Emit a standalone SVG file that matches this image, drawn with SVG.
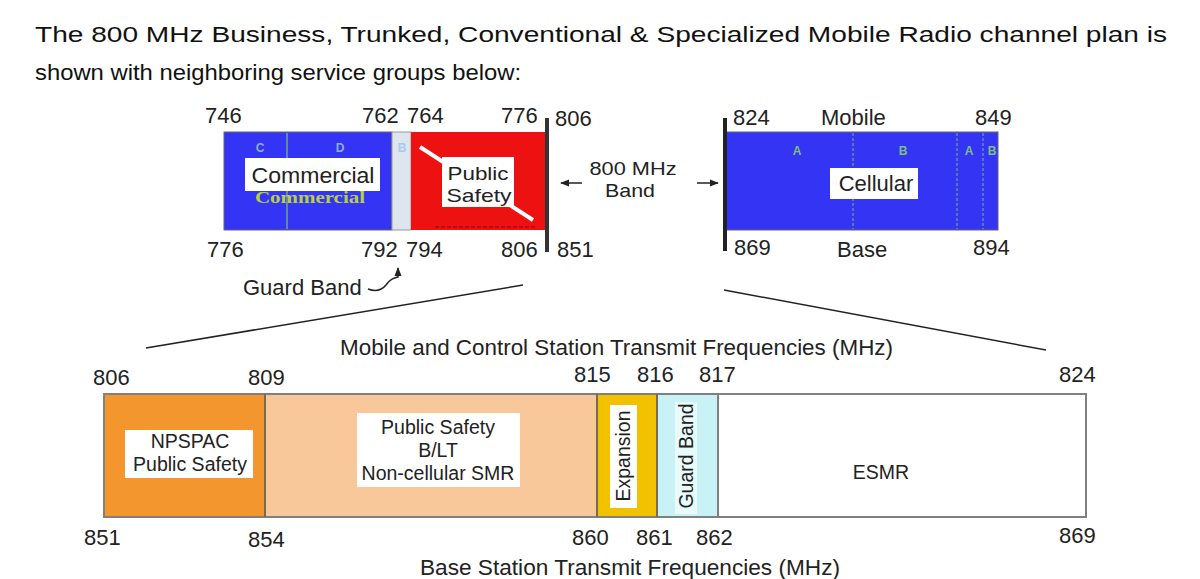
<svg xmlns="http://www.w3.org/2000/svg" width="1200" height="579" viewBox="0 0 1200 579">
<defs>
<style>
.t{font-family:"Liberation Sans",Arial,sans-serif;font-size:22px;fill:#222}
.t2{font-family:"Liberation Sans",Arial,sans-serif;font-size:19px;fill:#222;text-anchor:middle}
.h{font-family:"Liberation Sans",Arial,sans-serif;font-size:22px;fill:#111}
.m{text-anchor:middle}
.lbl{font-family:"Liberation Sans",Arial,sans-serif;font-size:19.5px;fill:#222;text-anchor:middle}
.ltr{font-family:"Liberation Sans",Arial,sans-serif;font-size:12px;font-weight:bold;text-anchor:middle}
.seg{stroke:#7a6a50;stroke-width:2}
.ln{stroke:#222;stroke-width:1.5;fill:none}
</style>
<marker id="ah" viewBox="0 0 10 10" refX="9" refY="5" markerWidth="6" markerHeight="6" orient="auto"><path d="M0,1 L10,5 L0,9 z" fill="#222"/></marker>
</defs>
<rect width="1200" height="579" fill="#fff"/>
<g id="header">
<text class="h" x="35" y="42" textLength="1132" lengthAdjust="spacingAndGlyphs">The 800 MHz Business, Trunked, Conventional &amp; Specialized Mobile Radio channel plan is</text>
<text class="h" x="35" y="80" textLength="486" lengthAdjust="spacingAndGlyphs">shown with neighboring service groups below:</text>
</g>
<g id="band-left">
<rect x="224" y="132" width="168" height="98" fill="#3434f4" stroke="#666" stroke-width="1"/>
<line x1="287" y1="133" x2="287" y2="229" stroke="#6fa58a" stroke-width="1.5"/>
<rect x="392" y="132" width="19" height="98" fill="#dde5ee" stroke="#999" stroke-width="1"/>
<rect x="411" y="132" width="135" height="98" fill="#ee1111"/>
<line x1="435" y1="227" x2="535" y2="227" stroke="#7a1010" stroke-width="1" stroke-dasharray="4,2"/>
<line x1="420" y1="147" x2="533" y2="220" stroke="#fff" stroke-width="4"/>
<text class="ltr" x="260" y="152" fill="#8fb0c0">C</text>
<text class="ltr" x="340" y="152" fill="#8fb0c0">D</text>
<text class="ltr" x="402" y="152" fill="#a8c8f0">B</text>
<text x="310" y="203" font-family="Liberation Serif,serif" font-size="16" font-weight="bold" fill="#b8d040" text-anchor="middle" textLength="110" lengthAdjust="spacingAndGlyphs">Commercial</text>
<rect x="245" y="158" width="135" height="33" fill="#fff"/>
<text class="t m" x="313" y="183" textLength="123" lengthAdjust="spacingAndGlyphs">Commercial</text>
<rect x="442" y="157" width="72" height="50" fill="#fff"/>
<text class="t2" x="478" y="180" textLength="61" lengthAdjust="spacingAndGlyphs">Public</text>
<text class="t2" x="479" y="202" textLength="65" lengthAdjust="spacingAndGlyphs">Safety</text>
<line x1="547" y1="118" x2="547" y2="252" stroke="#333" stroke-width="4"/>
<text class="t" x="205" y="123">746</text>
<text class="t" x="362" y="123">762</text>
<text class="t" x="407" y="123">764</text>
<text class="t" x="501" y="123">776</text>
<text class="t" x="555" y="126">806</text>
<text class="t" x="207" y="257">776</text>
<text class="t" x="361" y="257">792</text>
<text class="t" x="406" y="257">794</text>
<text class="t" x="501" y="257">806</text>
<text class="t" x="557" y="257">851</text>
<text class="t" x="243" y="295">Guard Band</text>
<path class="ln" d="M368,289 C376,292 382,290 386,285 C390,279 394,278 398,277 L398,268" marker-end="url(#ah)" stroke-width="1.2"/>
</g>
<g id="band-label">
<text class="t2" x="633" y="175" textLength="87" lengthAdjust="spacingAndGlyphs">800 MHz</text>
<text class="t2" x="630" y="197" textLength="50" lengthAdjust="spacingAndGlyphs">Band</text>
</g>
<g id="band-right">
<rect x="725" y="132" width="273" height="98" fill="#3434f4" stroke="#666" stroke-width="1"/>
<line x1="853" y1="133" x2="853" y2="229" stroke="#6fa58a" stroke-width="1.2" stroke-dasharray="3,2"/>
<line x1="957" y1="133" x2="957" y2="229" stroke="#6fa58a" stroke-width="1.2" stroke-dasharray="3,2"/>
<line x1="983" y1="133" x2="983" y2="229" stroke="#6fa58a" stroke-width="1.2" stroke-dasharray="3,2"/>
<text class="ltr" x="797" y="155" fill="#7fbf7f">A</text>
<text class="ltr" x="903" y="155" fill="#7fbf7f">B</text>
<text class="ltr" x="969" y="155" fill="#7fbf7f">A</text>
<text class="ltr" x="992" y="155" fill="#7fbf7f">B</text>
<rect x="830" y="168" width="88" height="31" fill="#fff"/>
<text class="t m" x="876" y="191">Cellular</text>
<line x1="725" y1="118" x2="725" y2="251" stroke="#222" stroke-width="4"/>
<text class="t" x="733" y="125">824</text>
<text class="t" x="821" y="125">Mobile</text>
<text class="t" x="975" y="125">849</text>
<text class="t" x="734" y="255">869</text>
<text class="t" x="837" y="257">Base</text>
<text class="t" x="973" y="255">894</text>
</g>
<g id="bottom-plan">
<rect x="104" y="394" width="982" height="123" fill="#fff" stroke="#808080" stroke-width="2"/>
<rect x="104" y="394" width="161" height="123" fill="#f4962e"/>
<rect x="265" y="394" width="332" height="123" fill="#f8c89a"/>
<rect x="597" y="394" width="60" height="123" fill="#f2c200"/>
<rect x="657" y="394" width="61" height="123" fill="#c8f2f6"/>
<rect x="104" y="394" width="982" height="123" fill="none" stroke="#808080" stroke-width="2"/>
<line class="seg" x1="265" y1="394" x2="265" y2="517"/>
<line class="seg" x1="597" y1="394" x2="597" y2="517"/>
<line class="seg" x1="657" y1="394" x2="657" y2="517"/>
<line x1="718" y1="394" x2="718" y2="517" stroke="#808080" stroke-width="2"/>
<rect x="125" y="430" width="128" height="48" fill="#fff"/>
<text class="lbl" x="190" y="448">NPSPAC</text>
<text class="lbl" x="190" y="471">Public Safety</text>
<rect x="357" y="413" width="163" height="74" fill="#fff"/>
<text class="lbl" x="438" y="434">Public Safety</text>
<text class="lbl" x="438" y="457">B/LT</text>
<text class="lbl" x="438" y="480">Non-cellular SMR</text>
<rect x="610" y="405" width="27" height="103" fill="#fff"/>
<text class="lbl" transform="translate(630,456) rotate(-90)">Expansion</text>
<rect x="675" y="402" width="22" height="112" fill="#fff" opacity="0.6"/>
<text class="lbl" transform="translate(693,456) rotate(-90)">Guard Band</text>
<text class="lbl" x="881" y="479">ESMR</text>
<text class="t" x="93" y="385">806</text>
<text class="t" x="248" y="385">809</text>
<text class="t" x="574" y="382">815</text>
<text class="t" x="637" y="382">816</text>
<text class="t" x="699" y="382">817</text>
<text class="t" x="1059" y="382">824</text>
<text class="t" x="340" y="355" textLength="553" lengthAdjust="spacingAndGlyphs">Mobile and Control Station Transmit Frequencies (MHz)</text>
<text class="t" x="84" y="545">851</text>
<text class="t" x="248" y="547">854</text>
<text class="t" x="572" y="545">860</text>
<text class="t" x="636" y="545">861</text>
<text class="t" x="696" y="545">862</text>
<text class="t" x="1059" y="543">869</text>
<text class="t" x="420" y="575" textLength="420" lengthAdjust="spacingAndGlyphs">Base Station Transmit Frequencies (MHz)</text>
</g>
<g id="connectors">
<line x1="523" y1="285" x2="146" y2="348" stroke="#222" stroke-width="1.5"/>
<line x1="724" y1="290" x2="1046" y2="350" stroke="#222" stroke-width="1.5"/>
<line class="ln" x1="582" y1="183" x2="561" y2="183" marker-end="url(#ah)"/>
<line class="ln" x1="697" y1="183" x2="718" y2="183" marker-end="url(#ah)"/>
</g>
</svg>
